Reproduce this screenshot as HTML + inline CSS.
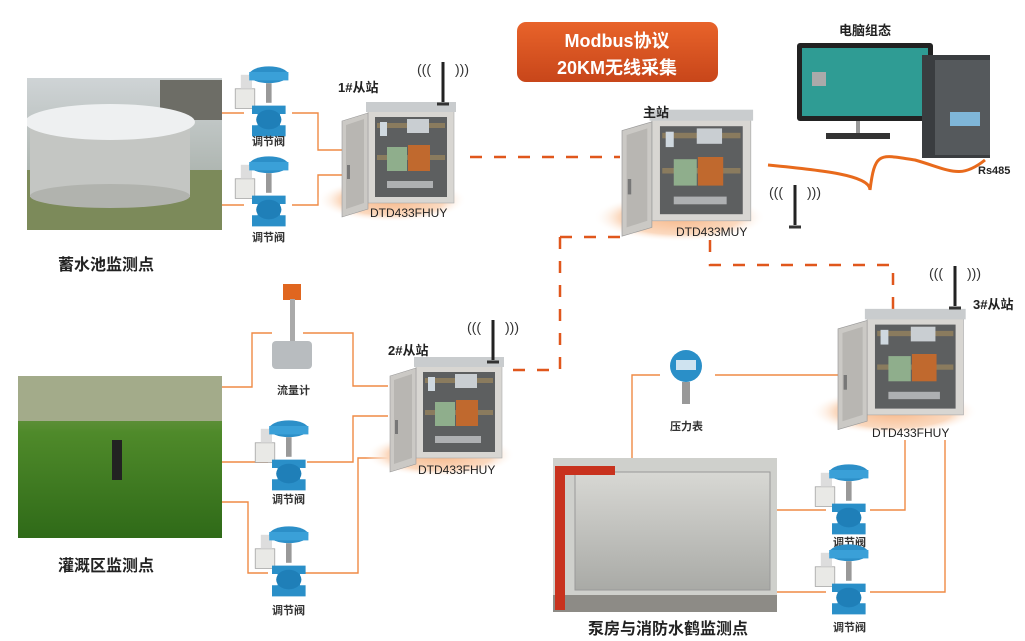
<!DOCTYPE html>
<html><head><meta charset="utf-8"><style>
body{margin:0;background:#fff;}
svg{display:block;font-family:"Liberation Sans","Noto Sans CJK SC",sans-serif;}
.lb{font-size:11px;fill:#333;font-weight:bold}
.big{font-size:16px;font-weight:bold;fill:#222}
.st{font-size:13px;font-weight:bold;fill:#222}
.mod{font-size:12px;fill:#222}
</style></head><body>
<svg width="1025" height="641" viewBox="0 0 1025 641" xmlns="http://www.w3.org/2000/svg">
<defs>
<clipPath id="c1"><rect x="27" y="78" width="195" height="152"/></clipPath>
<linearGradient id="og" x1="0" y1="0" x2="0" y2="1"><stop offset="0" stop-color="#e8632a"/><stop offset="1" stop-color="#c8461a"/></linearGradient>
<radialGradient id="glow"><stop offset="0" stop-color="#f7b88a"/><stop offset="0.7" stop-color="#fbd9bf"/><stop offset="1" stop-color="#fff" stop-opacity="0"/></radialGradient>
<linearGradient id="sky" x1="0" y1="0" x2="0" y2="1"><stop offset="0" stop-color="#cfd4d6"/><stop offset="1" stop-color="#9aa39a"/></linearGradient>
<linearGradient id="grass" x1="0" y1="0" x2="0" y2="1"><stop offset="0" stop-color="#8e9f6a"/><stop offset="0.35" stop-color="#4f8a2a"/><stop offset="1" stop-color="#2f6a18"/></linearGradient>
<linearGradient id="tank2" x1="0" y1="0" x2="0" y2="1"><stop offset="0" stop-color="#d8d8d4"/><stop offset="1" stop-color="#a9aaa6"/></linearGradient>
<g id="v0">
<rect x="-22" y="-8" width="14" height="14" fill="#e9e9e6" stroke="#999" stroke-width="0.5"/>
<rect x="-18" y="-18" width="8" height="10" fill="#ddd"/>
<ellipse cx="2" cy="-18" rx="14" ry="6" fill="#2c8fc8"/>
<rect x="-12" y="-20" width="28" height="6" fill="#3aa0d8"/>
<rect x="0" y="-12" width="4" height="14" fill="#999"/>
<path d="M-10 4 h24 v6 h-4 v8 h4 v8 h-24 v-8 h4 v-8 h-4z" fill="#2a8fc8"/>
<ellipse cx="2" cy="14" rx="9" ry="7" fill="#1f7fb8"/>
</g>
<g id="valve"><use href="#v0" transform="scale(1.4)"/></g>
<g id="cab">
<ellipse cx="50" cy="95" rx="75" ry="22" fill="url(#glow)"/>
<rect x="26" y="0" width="86" height="98" fill="#d8d6d2" stroke="#aaa" stroke-width="0.6"/>
<rect x="24" y="-3" width="90" height="10" fill="#c9ccce"/>
<rect x="33" y="12" width="72" height="80" fill="#5d5f60"/>
<rect x="35" y="18" width="68" height="5" fill="#8a7b5e"/>
<rect x="35" y="50" width="68" height="5" fill="#8a7b5e"/>
<rect x="38" y="17" width="7" height="14" fill="#cfd8df"/>
<rect x="65" y="14" width="22" height="14" fill="#c9ced2"/>
<rect x="45" y="42" width="20" height="24" fill="#8fae8c"/>
<rect x="66" y="40" width="22" height="26" fill="#c0692e"/>
<rect x="45" y="76" width="46" height="7" fill="#aeb0b2"/>
<path d="M0 16 L26 8 L26 104 L0 112 Z" fill="#cbc9c5" stroke="#999" stroke-width="0.6"/>
<path d="M4 20 L22 14 L22 98 L4 104 Z" fill="#b8b6b2"/>
<rect x="5" y="60" width="3" height="14" fill="#777"/>
</g>
<g id="ant">
<line x1="0" y1="0" x2="0" y2="40" stroke="#222" stroke-width="3"/>
<path d="M-6 42 h12" stroke="#333" stroke-width="3"/>
<text x="-26" y="12" font-size="14" fill="#333">(((</text>
<text x="12" y="12" font-size="14" fill="#333">)))</text>
</g>
</defs>

<g stroke="#ef8a45" stroke-width="1.4" fill="none">
<path d="M222 113 H244 M292 113 H318 V150 H342"/>
<path d="M222 205 H244 M292 205 H318 V175 H342"/>
<path d="M222 387 H252 V333 H272 M303 333 H353 V386 H388"/>
<path d="M222 462 H268 M307 462 H353 V416 H388"/>
<path d="M222 502 H248 V573 H268 M303 573 H358 V458 H388"/>
<path d="M632 458 V375 H660 M715 375 H840"/>
<path d="M777 510 H826 M870 510 H905 V440"/>
<path d="M777 592 H826 M870 592 H945 V440"/>
</g>
<g stroke="#e0571c" stroke-width="2.5" fill="none" stroke-dasharray="12,12">
<path d="M470 157 H620"/>
<path d="M560 237 H620 M560 237 V370 H505"/>
<path d="M710 240 V265 H893 V310"/>
</g>
<path d="M768 165 C820 170 870 175 870 190 C875 150 880 155 915 160 C950 170 960 180 985 160" stroke="#e86a1c" stroke-width="3" fill="none"/>

<g clip-path="url(#c1)">
<rect x="27" y="78" width="195" height="152" fill="url(#sky)"/>
<rect x="27" y="170" width="195" height="60" fill="#7c8a5a"/>
<rect x="160" y="80" width="62" height="40" fill="#6d6d66"/>
<rect x="30" y="122" width="160" height="75" fill="#c4c6c3"/>
<ellipse cx="110" cy="196" rx="80" ry="12" fill="#b1b3ae"/>
<ellipse cx="110" cy="122" rx="85" ry="18" fill="#eef0f1"/>
</g>

<rect x="18" y="376" width="204" height="162" fill="url(#grass)"/>
<rect x="18" y="376" width="204" height="45" fill="#a3ab8a"/>
<rect x="112" y="440" width="10" height="40" fill="#222"/>

<rect x="553" y="458" width="224" height="154" fill="#cfd0cc"/>
<rect x="575" y="472" width="195" height="118" fill="url(#tank2)" stroke="#999"/>
<rect x="553" y="595" width="224" height="17" fill="#8d8b86"/>
<rect x="555" y="470" width="10" height="140" fill="#c8321e"/>
<rect x="555" y="466" width="60" height="9" fill="#c8321e"/>

<rect x="517" y="22" width="201" height="60" rx="9" fill="url(#og)"/>
<text x="617" y="47" text-anchor="middle" font-size="18" fill="#fff" font-weight="bold">Modbus协议</text>
<text x="617" y="74" text-anchor="middle" font-size="18" fill="#fff" font-weight="bold">20KM无线采集</text>

<text x="865" y="35" text-anchor="middle" class="st" font-size="15">电脑组态</text>
<rect x="797" y="43" width="136" height="78" rx="3" fill="#222"/>
<rect x="802" y="48" width="126" height="68" fill="#2f9c94"/>
<rect x="812" y="72" width="14" height="14" fill="#aaa"/>
<rect x="856" y="121" width="4" height="12" fill="#999"/>
<rect x="826" y="133" width="64" height="6" fill="#333"/>
<rect x="922" y="55" width="68" height="103" fill="#3a3d40"/>
<rect x="935" y="60" width="55" height="95" fill="#55595c"/>
<rect x="950" y="112" width="30" height="14" fill="#7fb6d8"/>
<text x="978" y="174" font-size="11" font-weight="bold" fill="#222">Rs485</text>

<use href="#cab" x="342" y="105"/>
<use href="#ant" x="443" y="62"/>
<text x="338" y="92" class="st">1#从站</text>
<text x="370" y="217" class="mod">DTD433FHUY</text>

<g transform="translate(622,113) scale(1.15,1.1)"><use href="#cab"/></g>
<use href="#ant" x="795" y="185"/>
<text x="643" y="117" class="st" font-size="12">主站</text>
<text x="676" y="236" class="mod">DTD433MUY</text>

<use href="#cab" x="390" y="360"/>
<use href="#ant" x="493" y="320"/>
<text x="388" y="355" class="st">2#从站</text>
<text x="418" y="474" class="mod">DTD433FHUY</text>

<g transform="translate(838,312) scale(1.12,1.05)"><use href="#cab"/></g>
<use href="#ant" x="955" y="266"/>
<text x="973" y="309" class="st">3#从站</text>
<text x="872" y="437" class="mod">DTD433FHUY</text>

<use href="#valve" x="266" y="100"/>
<text x="252" y="145" class="lb">调节阀</text>
<use href="#valve" x="266" y="190"/>
<text x="252" y="241" class="lb">调节阀</text>
<use href="#valve" x="286" y="454"/>
<text x="272" y="503" class="lb">调节阀</text>
<use href="#valve" x="286" y="560"/>
<text x="272" y="614" class="lb">调节阀</text>
<use href="#valve" x="846" y="498"/>
<text x="833" y="546" class="lb">调节阀</text>
<use href="#valve" x="846" y="578"/>
<text x="833" y="631" class="lb">调节阀</text>

<rect x="283" y="284" width="18" height="16" fill="#e0661f"/>
<rect x="290" y="299" width="5" height="44" fill="#aaa"/>
<rect x="272" y="341" width="40" height="28" rx="4" fill="#b8bcbf"/>
<text x="277" y="394" class="lb">流量计</text>
<circle cx="686" cy="366" r="16" fill="#2a8fc8"/>
<rect x="676" y="360" width="20" height="10" fill="#cfe3f0"/>
<rect x="682" y="382" width="8" height="22" fill="#999"/>
<text x="670" y="430" class="lb">压力表</text>

<text x="58" y="270" class="big">蓄水池监测点</text>
<text x="58" y="571" class="big">灌溉区监测点</text>
<text x="588" y="634" class="big">泵房与消防水鹤监测点</text>
</svg>
</body></html>
